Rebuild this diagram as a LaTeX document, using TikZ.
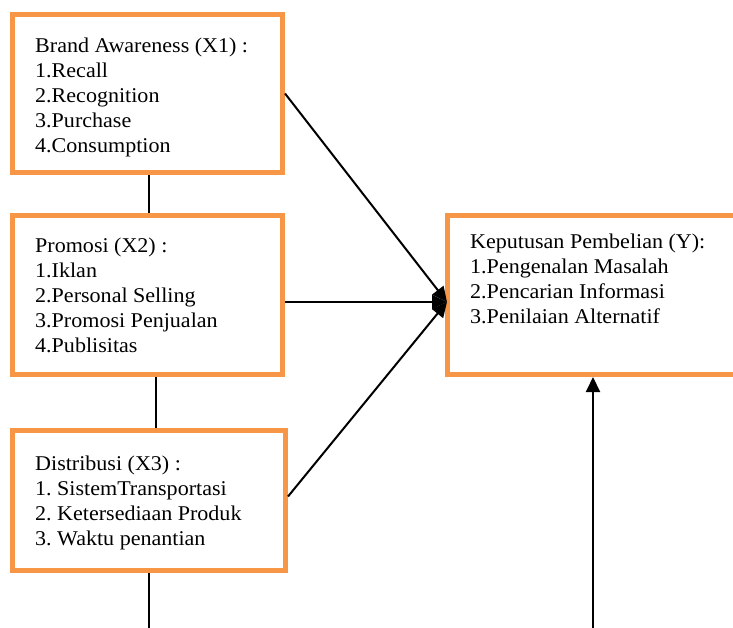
\documentclass[tikz,border=0pt]{standalone}
\usepackage{fontspec}
\setmainfont[FakeStretch=1.05]{Liberation Serif}
\usetikzlibrary{arrows.meta}
\definecolor{boxorange}{HTML}{F79646}
\frenchspacing
\begin{document}
\begin{tikzpicture}[x=1pt,y=-1pt,
  box/.style={draw=boxorange, line width=5pt, fill=white, inner sep=0pt},
  txt/.style={anchor=north west, inner sep=0pt, align=left, font=\fontsize{21}{25}\selectfont},
  link/.style={line width=2pt, black},
  arr/.style={line width=2pt, black, -{Triangle[length=15pt,width=14pt]}}]
\useasboundingbox (0,0) rectangle (733,628);
\clip (0,0) rectangle (733,628);
\fill[white] (0,0) rectangle (733,628);
% boxes
\node[box, minimum width=270pt, minimum height=158pt] (b1) at (147.5,93.5) {};
\node[box, minimum width=270pt, minimum height=159pt] (b2) at (147.5,295) {};
\node[box, minimum width=273pt, minimum height=140pt] (b3) at (149,500.5) {};
\node[box, minimum width=312.5pt, minimum height=159pt] (yb) at (603.75,295) {};
% texts
\node[txt] (t1) at (35,36) {\rule{0pt}{16pt}Brand Awareness (X1) :\\1.Recall\\2.Recognition\\3.Purchase\\4.Consumption};
\node[txt] (t2) at (35,236) {\rule{0pt}{16pt}Promosi (X2) :\\1.Iklan\\2.Personal Selling\\3.Promosi Penjualan\\4.Publisitas};
\node[txt] (t3) at (35,454) {\rule{0pt}{16pt}Distribusi (X3) :\\1. SistemTransportasi\\2. Ketersediaan Produk\\3. Waktu penantian};
\node[txt] (ty) at (470,232) {\rule{0pt}{16pt}Keputusan Pembelian (Y):\\1.Pengenalan Masalah\\2.Pencarian Informasi\\3.Penilaian Alternatif};
% connectors
\coordinate (m) at (447,302);
\coordinate (e1) at (149,640);
\coordinate (e2) at (593,640);
\draw[link] ([xshift=1.5pt]b1.south) -- ([xshift=1.5pt]b2.north);
\draw[link] ([xshift=8.5pt]b2.south) -- ([xshift=7pt]b3.north);
\draw[link] (b3.south) -- (e1);
\draw[arr] (e2) -- (e2 |- yb.south);
\draw[arr] (b1.east) -- (m);
\draw[arr] (b2.east |- m) -- (m);
\draw[arr] ([yshift=4pt]b3.east) -- (m);
\end{tikzpicture}
\end{document}
